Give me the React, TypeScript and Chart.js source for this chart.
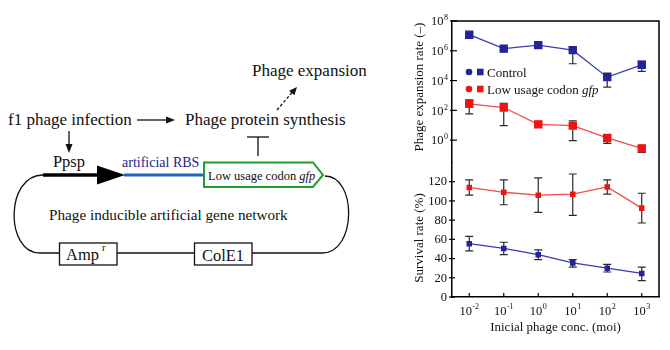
import React, { useEffect, useRef } from 'react';
import { Chart, registerables } from 'chart.js';

Chart.register(...registerables);

// ---------- data ----------
const moiExponents = [-2, -1, 0, 1, 2, 3];
const categories = ['1e-2', '1e-1', '1e0', '1e1', '1e2', '1e3'];

// Phage expansion rate (log scale)
const expansionControl = [1.2e7, 1.4e6, 2.4e6, 1.1e6, 1.7e4, 1.15e5];
const expansionControlLow = [8e6, 1.17e6, 1.65e6, 1.35e5, 3.6e3, 4.1e4];
const expansionControlHigh = [1.65e7, 1.8e6, 3e6, 1.85e6, 3.2e4, 1.95e5];

const expansionLowCodon = [275, 155, 11.5, 9.5, 1.4, 0.28];
const expansionLowCodonLow = [58, 9.5, 9.5, 0.93, 0.6, 0.15];
const expansionLowCodonHigh = [510, 290, 14, 20, 2.1, 0.36];

// Survival rate (%)
const survivalLowCodon = [114, 109, 106, 107, 114.5, 92.5];
const survivalLowCodonLow = [106, 96, 88, 85, 107, 77];
const survivalLowCodonHigh = [122, 122, 124, 128, 122, 108];

const survivalControl = [55.5, 50.5, 44, 35.5, 30, 24.5];
const survivalControlLow = [48, 44, 39, 31, 26, 17];
const survivalControlHigh = [63, 57, 49, 39, 34, 31];

// tick labels
const logTickExponents = [0, 2, 4, 6, 8];
const linTicks = [0, 20, 40, 60, 80, 100, 120];

const FONT = "'Liberation Serif', 'Times New Roman', serif";
const BLUE = '#23239a';
const BLUE_LINE = '#3c3cae';
const RED = '#ee1414';
const RED_LINE = '#f24a4a';

function drawPow(ctx: CanvasRenderingContext2D, exp: string, x: number, baseY: number, align: 'right' | 'center', baseSize: number, expSize: number, expRise: number) {
  ctx.font = `${baseSize}px ${FONT}`;
  const wb = ctx.measureText('10').width;
  ctx.font = `${expSize}px ${FONT}`;
  const we = ctx.measureText(exp).width;
  const total = wb + we + 0.5;
  const start = align === 'right' ? x - total : x - total / 2;
  ctx.textAlign = 'left';
  ctx.textBaseline = 'alphabetic';
  ctx.font = `${baseSize}px ${FONT}`;
  ctx.fillText('10', start, baseY);
  ctx.font = `${expSize}px ${FONT}`;
  ctx.fillText(exp, start + wb + 0.5, baseY - expRise);
}

const errorBarPlugin = {
  id: 'errorBars',
  beforeDatasetsDraw(chart: any) {
    const ctx = chart.ctx as CanvasRenderingContext2D;
    chart.data.datasets.forEach((ds: any, i: number) => {
      const meta = chart.getDatasetMeta(i);
      const ys = chart.scales[ds.yAxisID];
      ctx.save();
      ctx.strokeStyle = '#2a2a2a';
      ctx.lineWidth = 1.2;
      meta.data.forEach((pt: any, j: number) => {
        const x = pt.x;
        const yHi = ys.getPixelForValue(ds.errHigh[j]);
        const yLo = ys.getPixelForValue(ds.errLow[j]);
        ctx.beginPath();
        ctx.moveTo(x, yHi);
        ctx.lineTo(x, yLo);
        ctx.moveTo(x - 4, yHi);
        ctx.lineTo(x + 4, yHi);
        ctx.moveTo(x - 4, yLo);
        ctx.lineTo(x + 4, yLo);
        ctx.stroke();
      });
      ctx.restore();
    });
  },
};

const decorPlugin = {
  id: 'decor',
  afterDraw(chart: any) {
    const ctx = chart.ctx as CanvasRenderingContext2D;
    const ca = chart.chartArea;
    const xs = chart.scales.x;
    const yl = chart.scales.yLog;
    const yn = chart.scales.yLin;
    ctx.save();
    ctx.strokeStyle = '#000';
    ctx.fillStyle = '#111';
    ctx.lineWidth = 1.5;
    ctx.beginPath();
    ctx.moveTo(ca.left, ca.top);
    ctx.lineTo(ca.right, ca.top);
    ctx.lineTo(ca.right, ca.bottom);
    ctx.stroke();

    ctx.lineWidth = 1.2;
    // log ticks
    logTickExponents.forEach((e) => {
      const py = yl.getPixelForValue(Math.pow(10, e));
      ctx.beginPath();
      ctx.moveTo(ca.left - 2, py);
      ctx.lineTo(ca.left + 5, py);
      ctx.stroke();
      drawPow(ctx, String(e), ca.left - 4, py + 4.2, 'right', 12.5, 8, 5);
    });
    // linear ticks
    linTicks.forEach((v) => {
      const py = yn.getPixelForValue(v);
      ctx.beginPath();
      ctx.moveTo(ca.left - 3, py);
      ctx.lineTo(ca.left + 3, py);
      ctx.stroke();
      ctx.font = `12.5px ${FONT}`;
      ctx.textAlign = 'right';
      ctx.textBaseline = 'middle';
      ctx.fillText(String(v), ca.left - 5, py + 0.5);
    });
    // x ticks
    moiExponents.forEach((e, i) => {
      const px = xs.getPixelForValue(i);
      ctx.beginPath();
      ctx.moveTo(px, ca.bottom);
      ctx.lineTo(px, ca.bottom - 4);
      ctx.stroke();
      drawPow(ctx, String(e), px, 315, 'center', 12.5, 8, 6);
    });

    // axis titles
    ctx.font = `13px ${FONT}`;
    ctx.textAlign = 'center';
    ctx.textBaseline = 'middle';
    ctx.save();
    ctx.translate(20, 87);
    ctx.rotate(-Math.PI / 2);
    ctx.fillText('Phage expansion rate (–)', 0, 0);
    ctx.restore();
    ctx.save();
    ctx.translate(20, 238);
    ctx.rotate(-Math.PI / 2);
    ctx.fillText('Survival rate (%)', 0, 0);
    ctx.restore();
    ctx.textBaseline = 'alphabetic';
    ctx.fillText('Inicial phage conc. (moi)', (ca.left + ca.right) / 2, 331);

    // legend
    const rows = [
      { color: BLUE, y: 72, parts: [{ t: 'Control', it: false }] },
      { color: RED, y: 89, parts: [{ t: 'Low usage codon ', it: false }, { t: 'gfp', it: true }] },
    ];
    rows.forEach((r) => {
      ctx.fillStyle = r.color;
      ctx.beginPath();
      ctx.arc(69, r.y, 3.3, 0, Math.PI * 2);
      ctx.fill();
      ctx.fillRect(77, r.y - 3.3, 6.6, 6.6);
      ctx.fillStyle = '#111';
      ctx.textAlign = 'left';
      ctx.textBaseline = 'alphabetic';
      let tx = 87;
      r.parts.forEach((p) => {
        ctx.font = `${p.it ? 'italic ' : ''}13px ${FONT}`;
        ctx.fillText(p.t, tx, r.y + 5);
        tx += ctx.measureText(p.t).width;
      });
    });
    ctx.restore();
  },
};

function ChartPanel() {
  const ref = useRef<HTMLCanvasElement>(null);
  useEffect(() => {
    const chart = new Chart(ref.current as HTMLCanvasElement, {
      type: 'line',
      data: {
        labels: categories,
        datasets: [
          {
            label: 'Control',
            data: expansionControl,
            errLow: expansionControlLow,
            errHigh: expansionControlHigh,
            yAxisID: 'yLog',
            borderColor: BLUE_LINE,
            backgroundColor: BLUE,
            pointBackgroundColor: BLUE,
            pointBorderColor: BLUE,
            pointStyle: 'rect',
            pointRadius: 5,
            borderWidth: 1.3,
          } as any,
          {
            label: 'Low usage codon gfp',
            data: expansionLowCodon,
            errLow: expansionLowCodonLow,
            errHigh: expansionLowCodonHigh,
            yAxisID: 'yLog',
            borderColor: RED_LINE,
            backgroundColor: RED,
            pointBackgroundColor: RED,
            pointBorderColor: RED,
            pointStyle: 'rect',
            pointRadius: 5,
            borderWidth: 1.3,
          } as any,
          {
            label: 'Low usage codon gfp survival',
            data: survivalLowCodon,
            errLow: survivalLowCodonLow,
            errHigh: survivalLowCodonHigh,
            yAxisID: 'yLin',
            borderColor: RED_LINE,
            backgroundColor: RED,
            pointBackgroundColor: RED,
            pointBorderColor: RED,
            pointStyle: 'rect',
            pointRadius: 3,
            borderWidth: 1.3,
          } as any,
          {
            label: 'Control survival',
            data: survivalControl,
            errLow: survivalControlLow,
            errHigh: survivalControlHigh,
            yAxisID: 'yLin',
            borderColor: BLUE_LINE,
            backgroundColor: BLUE,
            pointBackgroundColor: BLUE,
            pointBorderColor: BLUE,
            pointStyle: 'rect',
            pointRadius: 3,
            borderWidth: 1.3,
          } as any,
        ],
      },
      options: {
        responsive: false,
        animation: false,
        layout: { padding: { top: 21, right: 11, left: 0, bottom: 0 } },
        plugins: { legend: { display: false }, tooltip: { enabled: false } },
        scales: {
          x: {
            type: 'category',
            offset: true,
            grid: { display: false },
            ticks: { display: false },
            border: { display: true, color: '#000', width: 1.5 },
            afterFit: (s: any) => { s.height = 53; },
          },
          yLin: {
            type: 'linear',
            position: 'left',
            stack: 'left',
            stackWeight: 135,
            min: 0,
            max: 140,
            grid: { display: false },
            ticks: { display: false },
            border: { display: true, color: '#000', width: 1.5 },
            afterFit: (s: any) => { s.width = 52; },
          },
          yLog: {
            type: 'logarithmic',
            position: 'left',
            stack: 'left',
            stackWeight: 142,
            min: Math.pow(10, -1.5),
            max: 1e8,
            bounds: 'data',
            grid: { display: false },
            ticks: { display: false },
            border: { display: true, color: '#000', width: 1.5 },
            afterFit: (s: any) => { s.width = 52; },
          },
        } as any,
      },
      plugins: [errorBarPlugin, decorPlugin],
    } as any);
    return () => chart.destroy();
  }, []);
  return (
    <canvas
      ref={ref}
      width={270}
      height={350}
      style={{ position: 'absolute', left: 400, top: 0, width: 270, height: 350 }}
    />
  );
}

function Diagram() {
  const f = FONT;
  return (
    <svg width={398} height={350} style={{ position: 'absolute', left: 0, top: 0 }} fontFamily={f}>
      {/* Phage expansion */}
      <text x={252} y={76} fontSize={17} fill="#111">Phage expansion</text>
      <line x1={277} y1={110} x2={292} y2={92.5} stroke="#111" strokeWidth={1.3} strokeDasharray="3,2" />
      <polygon points="297,87 294.4,95.3 289.1,90.7" fill="#111" />
      {/* f1 phage infection */}
      <text x={8} y={125} fontSize={17} fill="#111">f1 phage infection</text>
      <line x1={137} y1={120} x2={168} y2={120} stroke="#111" strokeWidth={1.3} />
      <polygon points="175,120 166,116.5 166,123.5" fill="#111" />
      <text x={185} y={125} fontSize={17} fill="#111">Phage protein synthesis</text>
      {/* down arrow */}
      <line x1={69} y1={131} x2={69} y2={146} stroke="#111" strokeWidth={1.3} />
      <polygon points="69,153 65.5,144 72.5,144" fill="#111" />
      <text x={69} y={167} fontSize={16.5} fill="#111" textAnchor="middle">Ppsp</text>
      {/* inhibition */}
      <line x1={258} y1={137} x2={258} y2={156} stroke="#111" strokeWidth={1.3} />
      <line x1={247} y1={137} x2={269} y2={137} stroke="#111" strokeWidth={1.3} />
      {/* loop */}
      <path d="M43,175 C5,175 5,253 40,253 L322,253 C357,253 357,176 325,176" fill="none" stroke="#111" strokeWidth={1.3} />
      {/* promoter */}
      <line x1={43} y1={175} x2={99} y2={175} stroke="#000" strokeWidth={3.5} />
      <polygon points="97,165.5 125,175 97,184.5" fill="#000" />
      {/* RBS */}
      <line x1={124} y1={175} x2={204} y2={175} stroke="#1f63c0" strokeWidth={3} />
      <text x={122} y={167} fontSize={14} fill="#23238f">artificial RBS</text>
      {/* gene box */}
      <polygon points="204,162.5 313,162.5 323,175 313,187 204,187" fill="#fff" stroke="#1fa02c" strokeWidth={2} />
      <text x={208} y={180} fontSize={12.5} fill="#111">Low usage codon <tspan fontStyle="italic">gfp</tspan></text>
      <text x={49} y={220} fontSize={15.2} fill="#111">Phage inducible artificial gene network</text>
      {/* Amp box */}
      <rect x={59.5} y={243} width={57.5} height={22} fill="#fff" stroke="#111" strokeWidth={1.3} />
      <text x={66} y={260} fontSize={16.5} fill="#111">Amp</text>
      <text x={102} y={251} fontSize={10.5} fill="#111">r</text>
      {/* ColE1 box */}
      <rect x={194.5} y={243} width={57.5} height={22} fill="#fff" stroke="#111" strokeWidth={1.3} />
      <text x={223} y={260.5} fontSize={16.5} fill="#111" textAnchor="middle">ColE1</text>
    </svg>
  );
}

export default function App() {
  return (
    <div style={{ position: 'absolute', left: 0, top: 0, width: 670, height: 350, background: '#fff', overflow: 'hidden' }}>
      <Diagram />
      <ChartPanel />
    </div>
  );
}
